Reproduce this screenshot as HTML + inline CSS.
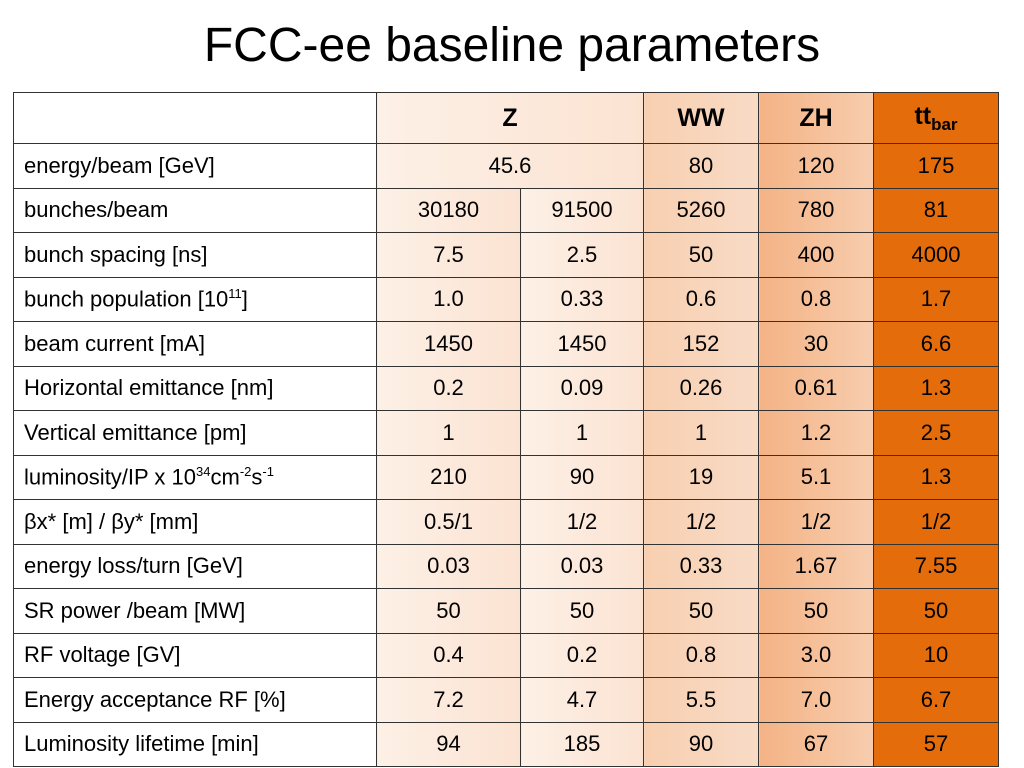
<!DOCTYPE html>
<html><head><meta charset="utf-8"><style>
body{margin:0;width:1024px;height:768px;background:#fff;font-family:"Liberation Sans",sans-serif;position:relative;overflow:hidden}
#title{position:absolute;left:0;width:1024px;top:18px;text-align:center;font-size:48px;color:#000}
table{position:absolute;left:13px;top:92px;border-collapse:collapse;font-size:22px}
td{border:1.5px solid #333;height:43.5px;padding:0;text-align:center;white-space:nowrap}
td.l{text-align:left;padding-left:10px;background:#fff}
tr.h td{height:50px;font-weight:bold;font-size:25px}
.z{background:linear-gradient(90deg,#fdf0e6,#fbe3d2)}
.ww{background:linear-gradient(90deg,#f8cfb0,#f8dbc6)}
.zh{background:linear-gradient(90deg,#f4b385,#f7cdae)}
.tt{background:#e46c0a}
sup{font-size:13px}
</style></head><body>
<div id="title">FCC-ee baseline parameters</div>
<table>
<colgroup><col style="width:363px"><col style="width:144px"><col style="width:123px"><col style="width:115px"><col style="width:115px"><col style="width:125px"></colgroup>
<tr class="h"><td class="l"></td><td class="z" colspan="2">Z</td><td class="ww">WW</td><td class="zh">ZH</td><td class="tt">tt<sub style="font-size:17px">bar</sub></td></tr>
<tr><td class="l">energy/beam [GeV]</td><td class="z" colspan="2">45.6</td><td class="ww">80</td><td class="zh">120</td><td class="tt">175</td></tr>
<tr><td class="l">bunches/beam</td><td class="z">30180</td><td class="z">91500</td><td class="ww">5260</td><td class="zh">780</td><td class="tt">81</td></tr>
<tr><td class="l">bunch spacing [ns]</td><td class="z">7.5</td><td class="z">2.5</td><td class="ww">50</td><td class="zh">400</td><td class="tt">4000</td></tr>
<tr><td class="l">bunch population [10<sup>11</sup>]</td><td class="z">1.0</td><td class="z">0.33</td><td class="ww">0.6</td><td class="zh">0.8</td><td class="tt">1.7</td></tr>
<tr><td class="l">beam current [mA]</td><td class="z">1450</td><td class="z">1450</td><td class="ww">152</td><td class="zh">30</td><td class="tt">6.6</td></tr>
<tr><td class="l">Horizontal emittance [nm]</td><td class="z">0.2</td><td class="z">0.09</td><td class="ww">0.26</td><td class="zh">0.61</td><td class="tt">1.3</td></tr>
<tr><td class="l">Vertical emittance [pm]</td><td class="z">1</td><td class="z">1</td><td class="ww">1</td><td class="zh">1.2</td><td class="tt">2.5</td></tr>
<tr><td class="l">luminosity/IP x 10<sup>34</sup>cm<sup>-2</sup>s<sup>-1</sup></td><td class="z">210</td><td class="z">90</td><td class="ww">19</td><td class="zh">5.1</td><td class="tt">1.3</td></tr>
<tr><td class="l">βx* [m] / βy* [mm]</td><td class="z">0.5/1</td><td class="z">1/2</td><td class="ww">1/2</td><td class="zh">1/2</td><td class="tt">1/2</td></tr>
<tr><td class="l">energy loss/turn [GeV]</td><td class="z">0.03</td><td class="z">0.03</td><td class="ww">0.33</td><td class="zh">1.67</td><td class="tt">7.55</td></tr>
<tr><td class="l">SR power /beam [MW]</td><td class="z">50</td><td class="z">50</td><td class="ww">50</td><td class="zh">50</td><td class="tt">50</td></tr>
<tr><td class="l">RF voltage [GV]</td><td class="z">0.4</td><td class="z">0.2</td><td class="ww">0.8</td><td class="zh">3.0</td><td class="tt">10</td></tr>
<tr><td class="l">Energy acceptance RF [%]</td><td class="z">7.2</td><td class="z">4.7</td><td class="ww">5.5</td><td class="zh">7.0</td><td class="tt">6.7</td></tr>
<tr><td class="l">Luminosity lifetime [min]</td><td class="z">94</td><td class="z">185</td><td class="ww">90</td><td class="zh">67</td><td class="tt">57</td></tr>
</table>
</body></html>
